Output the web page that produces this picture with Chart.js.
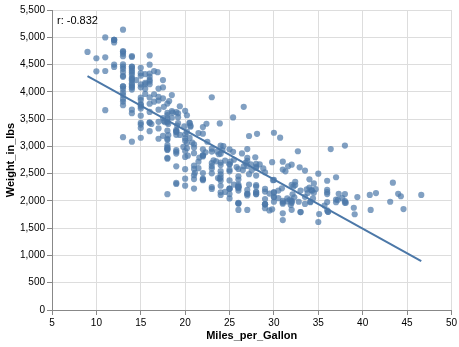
<!DOCTYPE html>
<html>
<head>
<meta charset="utf-8">
<script src="https://cdn.jsdelivr.net/npm/chart.js@4"></script>
<style>
  html, body { margin: 0; padding: 0; background: #fff; }
  #wrap { width: 459px; height: 347px; position: relative; }
</style>
</head>
<body>
<div id="wrap"><canvas id="carsChart"></canvas></div>
<script>
// Miles_per_Gallon for each car (cars with no mpg are left out)
const mpg = [
  18,15,18,16,17,15,14,14,14,15,15,14,15,14,24,22,18,21,27,26,25,24,25,26,21,10,10,11,9,27,
  28,25,25,19,16,17,19,18,14,14,14,14,12,13,13,18,22,19,18,23,28,30,30,31,35,27,26,24,25,23,
  20,21,13,14,15,14,17,11,13,12,13,19,15,13,13,14,18,22,21,26,22,28,23,28,27,13,14,13,14,15,
  12,13,13,14,13,12,13,18,16,18,18,23,26,11,12,13,12,18,20,21,22,18,19,21,26,15,16,29,24,20,
  19,15,24,20,11,20,21,19,15,31,26,32,25,16,16,18,16,13,14,14,14,29,26,26,31,32,28,24,26,24,
  26,31,19,18,15,15,16,15,16,14,17,16,15,18,21,20,13,29,23,20,23,24,25,24,18,29,19,23,23,22,
  25,33,28,25,25,26,27,17.5,16,15.5,14.5,22,22,24,22.5,29,24.5,29,33,20,18,18.5,17.5,29.5,32,28,
  26.5,20,13,19,19,16.5,16.5,13,13,13,31.5,30,36,25.5,33.5,17.5,17,15.5,15,17.5,20.5,19,18.5,16,
  15.5,15.5,16,29,24.5,26,25.5,30.5,33.5,30,30.5,22,21.5,21.5,43.1,36.1,32.8,39.4,36.1,19.9,19.4,20.2,
  19.2,20.5,20.2,25.1,20.5,19.4,20.6,20.8,18.6,18.1,19.2,17.7,18.1,17.5,30,27.5,27.2,30.9,21.1,23.2,
  23.8,23.9,20.3,17,21.6,16.2,31.5,29.5,21.5,19.8,22.3,20.2,20.6,17,17.6,16.5,18.2,16.9,15.5,19.2,
  18.5,31.9,34.1,35.7,27.4,25.4,23,27.2,23.9,34.2,34.5,31.8,37.3,28.4,28.8,26.8,33.5,41.5,38.1,32.1,
  37.2,28,26.4,24.3,19.1,34.3,29.8,31.3,37,32.2,46.6,27.9,40.8,44.3,43.4,36.4,30,44.6,40.9,33.8,
  29.8,32.7,23.7,35,23.6,32.4,27.2,26.6,25.8,23.5,30,39.1,39,35.1,32.3,37,37.7,34.1,34.7,34.4,
  29.9,33,34.5,33.7,32.4,32.9,31.6,28.1,30.7,25.4,24.2,22.4,26.6,20.2,17.6,28,27,34,31,29,
  27,24,36,37,31,38,36,36,36,34,38,32,38,25,38,26,22,32,36,27,27,44,32,28,31
];

// Weight_in_lbs, same order as mpg
const weight = [
  3504,3693,3436,3433,3449,4341,4354,4312,4425,3850,3563,3609,3761,3086,2372,2833,2774,2587,2130,1835,2672,2430,2375,2234,2648,4615,4376,4382,4732,2130,
  2264,2228,2046,2634,3439,3329,3302,3288,4209,4464,4154,4096,4955,4746,5140,2962,2408,3282,3139,2220,2123,2074,2065,1773,1613,1834,1955,2278,2126,2254,
  2408,2226,4274,4385,4135,4129,3672,4633,4502,4456,4422,2330,3892,4098,4294,4077,2933,2511,2979,2189,2395,2288,2506,2164,2100,4100,3672,3988,4042,3777,
  4952,4464,4363,4237,4735,4951,3821,3121,3278,2945,3021,2904,1950,4997,4906,4654,4499,2789,2279,2401,2379,2124,2310,2472,2265,4082,4278,1867,2158,2582,
  2868,3399,2660,2807,3664,3102,2875,2901,3336,1950,2451,1836,2542,3781,3632,3613,4141,4699,4457,4638,4257,2219,1963,2300,1649,2003,2125,2108,2246,2489,
  2391,2000,3264,3459,3432,3158,4668,4440,4498,4657,3907,3897,3730,3785,3039,3221,3169,2171,2639,2914,2592,2702,2223,2545,2984,1937,3211,2694,2957,2945,
  2671,1795,2464,2220,2572,2255,2202,4215,4190,3962,4215,3233,3353,3012,3085,2035,2164,1937,1795,3651,3574,3645,3193,1825,1990,2155,
  2565,3150,3940,3270,2930,3820,4380,4055,3870,3755,2045,2155,1825,2300,1945,3880,4060,4140,4295,3520,3425,3630,3525,4220,
  4165,4325,4335,1940,2740,2265,2755,2051,2075,1985,2190,2815,2600,2720,1985,1800,1985,2070,1800,3365,3735,3570,
  3535,3155,2965,2720,3430,3210,3380,3070,3620,3410,3425,3445,3205,4080,2155,2560,2300,2230,2515,2745,
  2855,2405,2830,3140,2795,3410,1990,2135,3245,2990,2890,3265,3360,3840,3725,3955,3830,4360,4054,3605,
  3940,1925,1975,1915,2670,3530,3900,3190,3420,2200,2150,2020,2130,2670,2595,2700,2556,2144,1968,2120,
  2019,2678,2870,3003,3381,2188,2711,2542,2434,2265,2110,2800,2110,2085,2335,2950,3250,1850,1835,2145,
  1845,2910,2420,2500,2905,2290,2490,2635,2620,2725,2385,1755,1875,1760,2065,1975,2050,1985,2215,2045,
  2380,2190,2320,2210,2350,2615,2635,3230,3160,2900,2930,3415,3725,3060,3465,2605,2640,2395,2575,2525,
  2735,2865,1980,2025,1970,2125,2125,2160,2205,2245,1965,1965,1995,2945,3015,2585,2835,2665,2370,2950,2790,2130,2295,2625,2720
];

// regression line ends
const trendX = [9, 46.6];
const trendY = [4287, 898];
const rLabel = 'r: -0.832';

const xTicks = [5, 10, 15, 20, 25, 30, 35, 40, 45, 50];

const FONT = '"Liberation Sans", Arial, Helvetica, sans-serif';
const BLUE = '#4c78a8';

const points = mpg.map((m, i) => ({ x: m, y: weight[i] }));
const trend = trendX.map((x, i) => ({ x: x, y: trendY[i] }));

// petit plugin pour le texte "r: ..." en haut à gauche
const rText = {
  id: 'rText',
  afterDatasetsDraw(chart) {
    const c = chart.ctx;
    const a = chart.chartArea;
    c.save();
    c.font = '11px ' + FONT;
    c.fillStyle = '#000';
    c.textBaseline = 'alphabetic';
    c.fillText(rLabel, a.left + 5, a.top + 14);
    c.restore();
  }
};

const ctx = document.getElementById('carsChart').getContext('2d');
const chart = new Chart(ctx, {
  type: 'scatter',
  data: {
    datasets: [
      {
        label: 'cars',
        data: points,
        backgroundColor: 'rgba(76,120,168,0.7)',
        borderWidth: 0,
        pointRadius: 3.1,
        pointHoverRadius: 3.1
      },
      {
        label: 'regression',
        type: 'line',
        data: trend,
        borderColor: BLUE,
        borderWidth: 2,
        pointRadius: 0,
        fill: false,
        tension: 0
      }
    ]
  },
  options: {
    responsive: true,
    maintainAspectRatio: false,
    animation: false,
    layout: { padding: { top: 10, right: 7, left: 0, bottom: 0 } },
    plugins: {
      legend: { display: false },
      tooltip: { enabled: false }
    },
    scales: {
      x: {
        type: 'linear',
        min: 5,
        max: 50,
        afterBuildTicks: s => { s.ticks = xTicks.map(v => ({ value: v })); },
        afterFit: s => { s.height = 37; },
        grid: { color: '#ddd', tickColor: '#888', tickLength: 5 },
        border: { color: '#888' },
        ticks: { color: '#000', font: { family: FONT, size: 10 }, padding: 2, maxRotation: 0 },
        title: { display: true, text: 'Miles_per_Gallon', color: '#000', font: { family: FONT, size: 11, weight: 'bold' }, padding: { top: 4, bottom: 4 } }
      },
      y: {
        min: 0,
        max: 5500,
        ticks: { stepSize: 500, color: '#000', font: { family: FONT, size: 10 }, padding: 2 },
        afterFit: s => { s.width = 52; },
        grid: { color: '#ddd', tickColor: '#888', tickLength: 5 },
        border: { color: '#888' },
        title: { display: true, text: 'Weight_in_lbs', color: '#000', font: { family: FONT, size: 11, weight: 'bold' }, padding: { top: 4, bottom: 4 } }
      }
    }
  },
  plugins: [rText]
});
</script>
</body>
</html>
